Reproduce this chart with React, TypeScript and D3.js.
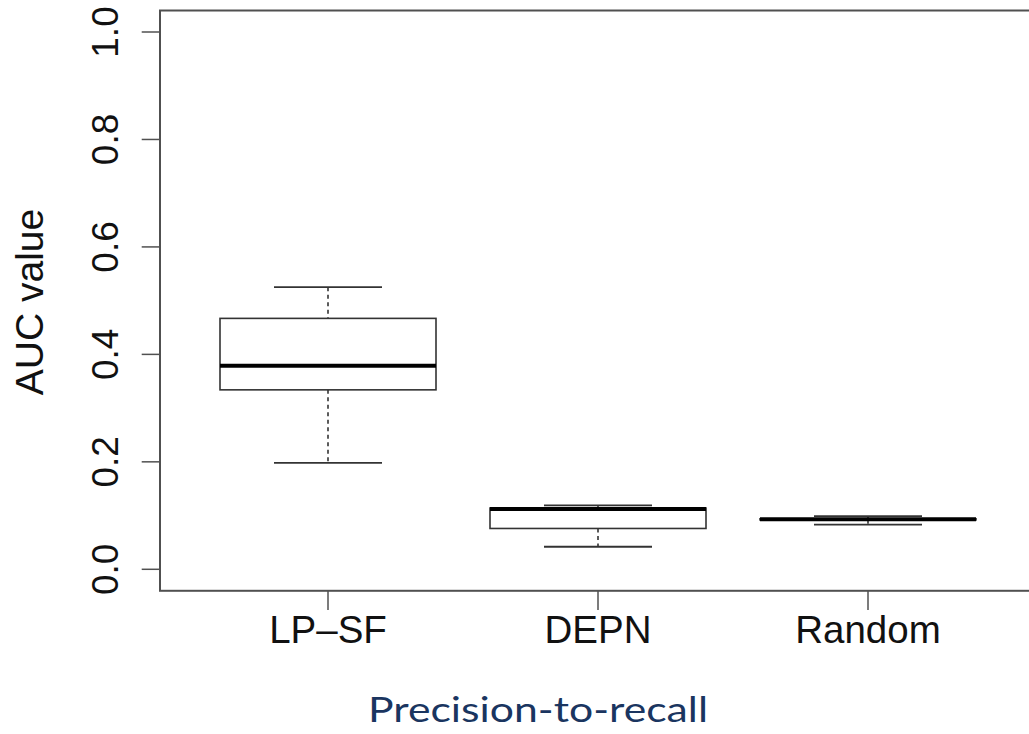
import React from "react";
import * as d3 from "d3";

const categories = ["LP\u2013SF", "DEPN", "Random"];
const whiskerLow = [0.198, 0.042, 0.083];
const q1 = [0.334, 0.076, 0.092];
const median = [0.379, 0.112, 0.093];
const q3 = [0.467, 0.114, 0.094];
const whiskerHigh = [0.525, 0.119, 0.099];
const yTicks = [0, 0.2, 0.4, 0.6, 0.8, 1.0];
const xTitle = "Precision-to-recall";
const yTitle = "AUC value";

const W = 1029;
const H = 734;

export default function App() {
  const y = d3.scaleLinear().domain([0, 1]).range([569.3, 32]);
  const x = d3.scalePoint<string>().domain(categories).range([328, 868]);
  const frameLeft = 160;
  const frameTop = y(1.04);
  const frameBottom = y(-0.04);
  const frameRight = 1040;
  const boxW = 216;
  const capW = 108;
  const stroke = "#333333";
  const font = "'Liberation Sans', Arial, Helvetica, sans-serif";

  return (
    <svg
      width={W}
      height={H}
      style={{ position: "absolute", left: 0, top: 0, background: "#fff" }}
    >
      <rect x={0} y={0} width={W} height={H} fill="#fff" />
      {/* frame */}
      <rect
        x={frameLeft}
        y={frameTop}
        width={frameRight - frameLeft}
        height={frameBottom - frameTop}
        fill="none"
        stroke="#505050"
        strokeWidth={2}
      />
      {/* y axis ticks */}
      {yTicks.map((t) => (
        <g key={t}>
          <line x1={141.7} x2={frameLeft} y1={y(t)} y2={y(t)} stroke="#505050" strokeWidth={1.5} />
          <text
            transform={`translate(118,${y(t)}) rotate(-90)`}
            textAnchor="middle"
            fontFamily={font}
            fontSize={37}
            fill="#111"
          >
            {d3.format(".1f")(t)}
          </text>
        </g>
      ))}
      <text
        transform={`translate(43,302) rotate(-90)`}
        textAnchor="middle"
        fontFamily={font}
        fontSize={39}
        fill="#111"
      >
        {yTitle}
      </text>
      {/* x axis ticks */}
      {categories.map((c) => (
        <g key={c}>
          <line x1={x(c)} x2={x(c)} y1={frameBottom} y2={610} stroke="#505050" strokeWidth={1.5} />
          <text x={x(c)} y={643.3} textAnchor="middle" fontFamily={font} fontSize={38.5} fill="#111">
            {c}
          </text>
        </g>
      ))}
      {/* boxes */}
      {categories.map((c, i) => {
        const cx = x(c) as number;
        return (
          <g key={"b" + c}>
            <line x1={cx} x2={cx} y1={y(whiskerHigh[i])} y2={y(q3[i])} stroke={stroke} strokeWidth={1.6} strokeDasharray="4,3.5" />
            <line x1={cx} x2={cx} y1={y(q1[i])} y2={y(whiskerLow[i])} stroke={stroke} strokeWidth={1.6} strokeDasharray="4,3.5" />
            <line x1={cx - capW / 2} x2={cx + capW / 2} y1={y(whiskerHigh[i])} y2={y(whiskerHigh[i])} stroke={stroke} strokeWidth={1.8} />
            <line x1={cx - capW / 2} x2={cx + capW / 2} y1={y(whiskerLow[i])} y2={y(whiskerLow[i])} stroke={stroke} strokeWidth={1.8} />
            <rect
              x={cx - boxW / 2}
              y={y(q3[i])}
              width={boxW}
              height={y(q1[i]) - y(q3[i])}
              fill="#fff"
              stroke={stroke}
              strokeWidth={1.6}
            />
            <line x1={cx - boxW / 2} x2={cx + boxW / 2} y1={y(median[i])} y2={y(median[i])} stroke="#000" strokeWidth={4} />
          </g>
        );
      })}
      <text
        x={538}
        y={721.7}
        textAnchor="middle"
        fontFamily="Lato, 'Open Sans', sans-serif"
        fontSize={35}
        fill="#1a3560"
        textLength={340}
        lengthAdjust="spacingAndGlyphs"
      >
        {xTitle}
      </text>
    </svg>
  );
}
